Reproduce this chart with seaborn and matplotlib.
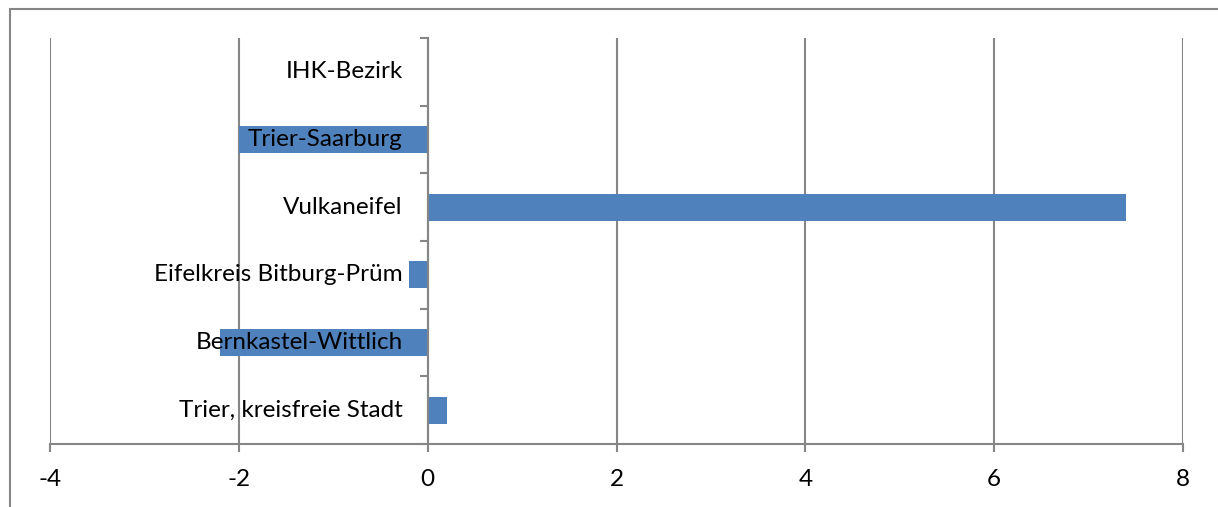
import matplotlib
matplotlib.use("Agg")
import matplotlib.pyplot as plt
from matplotlib.patches import Rectangle
import seaborn as sns
import pandas as pd

# Change values per district (top to bottom)
regions = [
    "IHK-Bezirk",
    "Trier-Saarburg",
    "Vulkaneifel",
    "Eifelkreis Bitburg-Prüm",
    "Bernkastel-Wittlich",
    "Trier, kreisfreie Stadt",
]
values = [0.0, -2.0, 7.4, -0.2, -2.2, 0.2]
x_ticks = [-4, -2, 0, 2, 4, 6, 8]

df = pd.DataFrame({"Region": regions, "Wert": values})

sns.set_theme(style="white")
plt.rcParams["font.family"] = ["Lato", "DejaVu Sans"]

GRAY = "#868686"
BLUE = "#4F81BD"
FS = 17.5

fig = plt.figure(figsize=(12.18, 5.07), dpi=100)
ax = fig.add_axes([50 / 1218, 63 / 507, 1133 / 1218, 406 / 507])

sns.barplot(data=df, x="Wert", y="Region", order=regions, orient="h",
            color=BLUE, saturation=1, width=0.4, linewidth=0, ax=ax, zorder=2)

ax.set_xlim(x_ticks[0], x_ticks[-1])
ax.set_ylim(len(regions) - 0.5, -0.5)
ax.set_xticks(x_ticks)
ax.set_xticklabels([str(t) for t in x_ticks], fontsize=FS, color="black")
ax.set_xlabel("")
ax.set_ylabel("")

# vertical gridlines
ax.grid(axis="x", color=GRAY, linewidth=1.5, zorder=0)
ax.grid(axis="y", visible=False)
ax.set_axisbelow(True)

# spines: category axis sits at x = 0
for s in ["top", "right"]:
    ax.spines[s].set_visible(False)
ax.spines["left"].set_position(("data", 0))
ax.spines["left"].set_color(GRAY)
ax.spines["left"].set_linewidth(1.5)
ax.spines["bottom"].set_color(GRAY)
ax.spines["bottom"].set_linewidth(1.5)
ax.spines["left"].set_zorder(3)

ax.tick_params(axis="x", which="major", direction="out", length=6, width=1.5,
               color=GRAY, pad=12, bottom=True)
ax.set_yticks([])
ax.set_yticks([i - 0.5 for i in range(len(regions) + 1)], minor=True)
ax.tick_params(axis="y", which="minor", direction="out", length=6, width=1.5,
               color=GRAY, left=True, labelleft=False)

# category labels placed just left of the zero line
for i, name in enumerate(regions):
    ax.annotate(name, xy=(0, i), xytext=(-25, 0), textcoords="offset pixels",
                ha="right", va="center", fontsize=FS, color="black", zorder=4)

# chart frame
fig.patches.append(Rectangle((10 / 1218, -0.1), 1.2, 498 / 507 + 0.1,
                             transform=fig.transFigure, fill=False,
                             edgecolor=GRAY, linewidth=1.5))

fig.savefig("out.png", dpi=100, facecolor="white")
